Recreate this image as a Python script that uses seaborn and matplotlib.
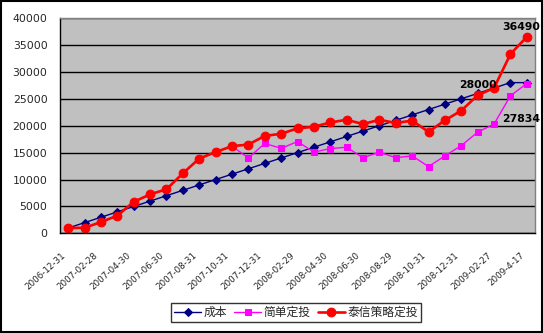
import matplotlib
matplotlib.use("Agg")
import matplotlib.pyplot as plt
import matplotlib.transforms as mtransforms
from matplotlib.patches import Rectangle
import seaborn as sns
import pandas as pd

dates = ["2006-12-31", "2007-01-31", "2007-02-28", "2007-03-30", "2007-04-30", "2007-05-31",
         "2007-06-30", "2007-07-31", "2007-08-31", "2007-09-28", "2007-10-31", "2007-11-30",
         "2007-12-31", "2008-01-31", "2008-02-29", "2008-03-31", "2008-04-30", "2008-05-30",
         "2008-06-30", "2008-07-31", "2008-08-29", "2008-09-26", "2008-10-31", "2008-11-28",
         "2008-12-31", "2009-01-23", "2009-02-27", "2009-03-31", "2009-4-17"]

cost = [1000, 2000, 3000, 4000, 5000, 6000, 7000, 8000, 9000, 10000,
        11000, 12000, 13000, 14000, 15000, 16000, 17000, 18000, 19000, 20000,
        21000, 22000, 23000, 24000, 25000, 26000, 27000, 28000, 28000]

simple = [1000, 1050, 2100, 3300, 5850, 7250, 8200, 11150, 13900, 15100,
          16200, 14000, 16700, 15800, 17050, 15100, 15750, 16000, 14050, 15100,
          14050, 14400, 12400, 14400, 16300, 18800, 20300, 25550, 27834]

strategy = [1000, 1050, 2100, 3300, 5850, 7250, 8200, 11150, 13900, 15100,
            16200, 16500, 18100, 18500, 19500, 19800, 20600, 21100, 20300, 21100,
            20500, 20950, 18850, 21000, 22800, 25650, 27000, 33300, 36490]

series_names = ["成本", "简单定投", "泰信策略定投"]

idx = list(range(len(dates)))
df = pd.DataFrame({"idx": idx, "cost": cost, "simple": simple, "strategy": strategy})

sns.set_style("white")
plt.rcParams["font.family"] = ["Noto Sans CJK SC", "DejaVu Sans"]

fig = plt.figure(figsize=(5.43, 3.33), dpi=100)
ax = fig.add_axes([60 / 543, 1 - 233.4 / 333, 475 / 543, (233.4 - 18) / 333])
ax.set_facecolor("#C0C0C0")

sns.lineplot(data=df, x="idx", y="cost", ax=ax, color="#000080", lw=1.0,
             marker="D", markersize=3.8, markeredgecolor="#000080", label=series_names[0])
sns.lineplot(data=df, x="idx", y="simple", ax=ax, color="#FF00FF", lw=1.0,
             marker="s", markersize=4.6, markeredgecolor="#FF00FF", label=series_names[1])
sns.lineplot(data=df, x="idx", y="strategy", ax=ax, color="#FF0000", lw=1.9,
             marker="o", markersize=6.3, markeredgecolor="#FF0000", label=series_names[2])

ax.set_xlim(-0.5, len(dates) - 0.5)
ax.set_ylim(0, 40000)
ax.set_yticks(range(0, 40001, 5000))
ax.yaxis.grid(True, color="black", lw=1.0)
ax.set_axisbelow(True)
ax.set_xlabel("")
ax.set_ylabel("")

tick_pos = idx[::2]
ax.set_xticks(tick_pos)
ax.set_xticklabels([dates[i] for i in tick_pos], rotation=42, ha="right", va="center",
                   rotation_mode="anchor", fontsize=6.3, family="DejaVu Sans")
ax.tick_params(axis="x", which="major", length=0, pad=15)
ax.set_xticks([i + 0.5 for i in idx[:-1]], minor=True)
ax.tick_params(axis="x", which="minor", length=3, direction="out", color="black", width=1)
offset = mtransforms.ScaledTranslation(-4 / 100, 0, fig.dpi_scale_trans)
for lab in ax.get_xticklabels():
    lab.set_transform(lab.get_transform() + offset)

ax.tick_params(axis="y", length=3, direction="out", color="black", labelsize=7.8, pad=6)
for lab in ax.get_yticklabels():
    lab.set_family("DejaVu Sans")

for side in ["left", "bottom"]:
    ax.spines[side].set_color("black")
    ax.spines[side].set_linewidth(1.0)
for side in ["top", "right"]:
    ax.spines[side].set_color("#808080")
    ax.spines[side].set_linewidth(1.0)
    ax.spines[side].set_visible(True)

ann_kw = dict(textcoords="offset pixels", fontsize=7.8, fontweight="bold",
              family="DejaVu Sans", color="black")
last = len(dates) - 1
ax.annotate(f"{strategy[last]}", (last, strategy[last]), xytext=(-6, 10), ha="center", va="center", **ann_kw)
ax.annotate(f"{cost[last - 1]}", (last - 1, cost[last - 1]), xytext=(-14, -2), ha="right", va="center", **ann_kw)
ax.annotate(f"{simple[last]}", (last, simple[last]), xytext=(-6, -35), ha="center", va="center", **ann_kw)

leg = ax.legend(loc="lower center", bbox_to_anchor=(296 / 543, 5 / 333),
                bbox_transform=fig.transFigure, ncol=3, frameon=True, fontsize=8.5,
                handlelength=2.3, handletextpad=0.2, columnspacing=0.6,
                borderpad=0.25, fancybox=False, edgecolor="black")
leg.get_frame().set_linewidth(1.0)

fig.patches.append(Rectangle((0.5 / 543, 1.5 / 333), 541.5 / 543, 330.5 / 333, transform=fig.transFigure,
                             fill=False, edgecolor="black", lw=1.5))

fig.savefig("out.png", dpi=100)
